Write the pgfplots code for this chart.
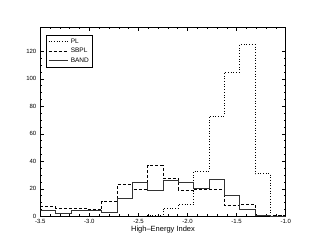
\documentclass[border=0pt]{standalone}
\usepackage{pgfplots}
\pgfplotsset{compat=1.18}
\usepackage{fontspec}
\setmainfont{Liberation Sans}
\begin{document}
\begin{tikzpicture}
\begin{axis}[
  scale only axis,
  width=245.4pt, height=189pt,
  xmin=-3.5, xmax=-1.0, ymin=0, ymax=137.5,
  xtick={-3.5,-3.0,-2.5,-2.0,-1.5,-1.0},
  xticklabels={-3.5,-3.0,-2.5,-2.0,-1.5,-1.0},
  ytick={0,20,40,60,80,100,120},
  minor x tick num=4, minor y tick num=3,
  tick align=inside,
  major tick length=3.5pt, minor tick length=1.8pt,
  axis line style={line width=0.6pt},
  tick style={line width=0.5pt, black},
  /pgf/number format/assume math mode=true,
  ticklabel style={font=\fontsize{6}{7}\selectfont},
  xticklabel style={yshift=0.5pt},
  yticklabel style={xshift=-0.5pt},
  xlabel={High–Energy Index},
  xlabel style={font=\fontsize{7.5}{8}\selectfont, yshift=4pt},
  legend style={at={(0.025,0.96)}, anchor=north west, font=\fontsize{6.5}{7.5}\selectfont,
    draw=black, line width=0.5pt, inner sep=1.5pt, row sep=-0.5pt, cells={anchor=west}},
  legend cell align=left,
  legend image code/.code={\draw[#1] (0cm,0cm) -- (0.7cm,0cm);},
  legend image post style={line width=0.7pt},
]
\addplot[const plot mark left, black, dotted, line width=0.7pt] coordinates {
(-3.5,0) (-3.34375,0) (-3.1875,0) (-3.03125,0) (-2.875,0) (-2.71875,0) (-2.5625,0) (-2.40625,1)
(-2.25,6) (-2.09375,9) (-1.9375,33) (-1.78125,73) (-1.625,105) (-1.46875,125) (-1.3125,31) (-1.15625,1) (-1.0,1)};
\addlegendentry{PL}
\addplot[const plot mark left, black, dash pattern=on 3pt off 2pt, line width=0.6pt] coordinates {
(-3.5,7) (-3.34375,6) (-3.1875,6) (-3.03125,5) (-2.875,11) (-2.71875,23) (-2.5625,20) (-2.40625,37)
(-2.25,28) (-2.09375,19) (-1.9375,20) (-1.78125,20) (-1.625,8) (-1.46875,9) (-1.3125,0) (-1.15625,1) (-1.0,1)};
\addlegendentry{SBPL}
\addplot[const plot mark left, black!80, line width=0.7pt] coordinates {
(-3.5,4) (-3.34375,2) (-3.1875,4) (-3.03125,4) (-2.875,3) (-2.71875,13) (-2.5625,25) (-2.40625,19)
(-2.25,26) (-2.09375,25) (-1.9375,20) (-1.78125,27) (-1.625,15) (-1.46875,5) (-1.3125,1) (-1.15625,0) (-1.0,0)};
\addlegendentry{BAND}
\end{axis}
\path ([shift={(-40.3pt,-32.7pt)}]current axis.south west) rectangle ([shift={(25.3pt,27.3pt)}]current axis.north east);
\end{tikzpicture}
\end{document}
